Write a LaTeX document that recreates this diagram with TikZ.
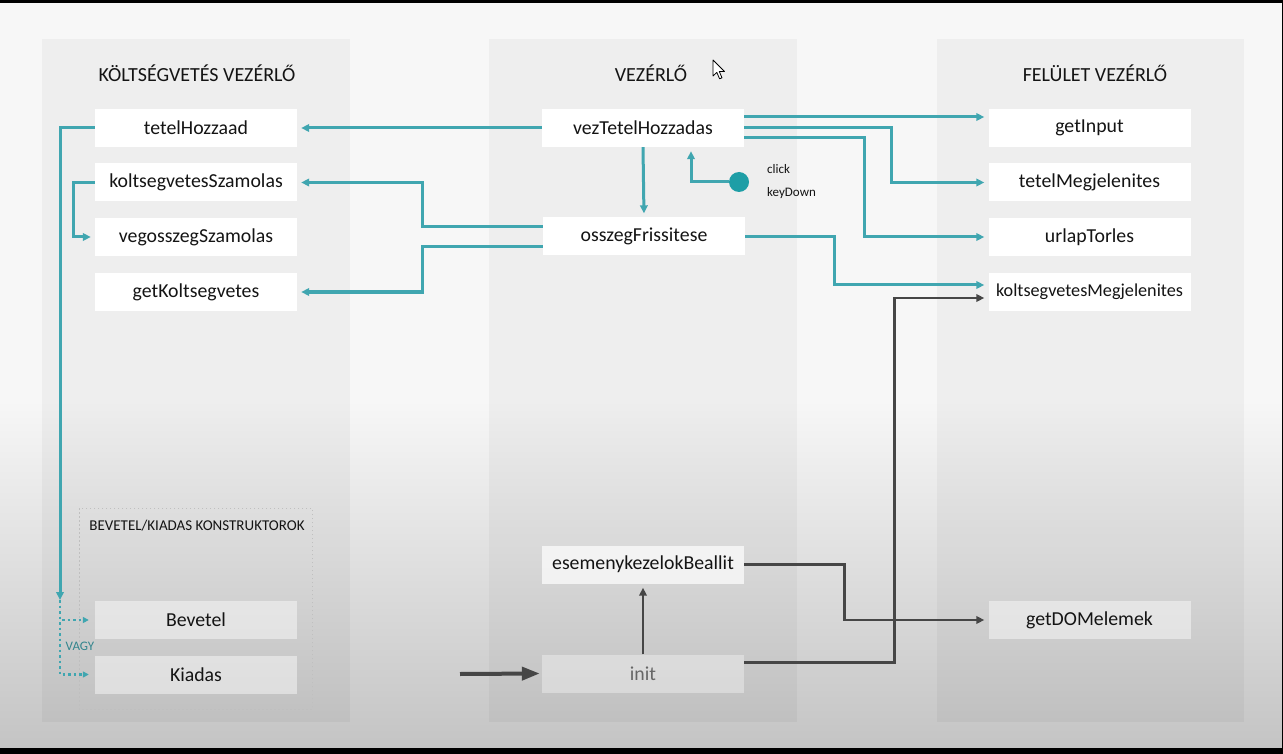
\documentclass[tikz,border=0pt]{standalone}
\usepackage{fontspec}
\setmainfont{Carlito}
\usetikzlibrary{calc,arrows.meta}
\definecolor{tealc}{RGB}{64,166,176}
\definecolor{tealdot}{RGB}{30,158,166}
\definecolor{darkc}{RGB}{70,70,70}
\definecolor{bgtop}{RGB}{247,247,247}
\definecolor{bgbot}{RGB}{196,196,196}
\definecolor{txt}{RGB}{20,20,20}
\begin{document}
\begin{tikzpicture}[x=1pt,y=-1pt,
  box/.style={draw=none,fill=white,minimum width=202pt,minimum height=38pt,inner sep=0pt,
    font=\fontsize{19.8}{21}\selectfont,text=txt},
  lowbox/.style={box,fill=white,fill opacity=0.45,text opacity=1},
  head/.style={font=\fontsize{20}{21}\selectfont,text=txt,inner sep=0pt},
  tl/.style={draw=tealc,line width=3pt,-{Triangle[length=8pt,width=7.5pt]},shorten >=4pt},
  tlplain/.style={draw=tealc,line width=3pt},
  tldot/.style={draw=tealc,line width=2.5pt,dash pattern=on 2.5pt off 3pt},
  dk/.style={draw=darkc,line width=2.6pt,-{Triangle[length=8pt,width=7.5pt]},shorten >=4pt},
]
\useasboundingbox (0,0) rectangle (1283,754);
% background
\fill[bgtop] (0,0) rectangle (1283,754);
\shade[top color=bgtop,bottom color=bgbot] (0,400) rectangle (1283,748);
% columns
\fill[black,opacity=0.035] (42,39) rectangle (350,722);
\fill[black,opacity=0.035] (489,39) rectangle (797,722);
\fill[black,opacity=0.035] (937,39) rectangle (1244,722);
% frame strips
\fill[black] (0,0) rectangle (1283,3);
\fill[black] (0,748) rectangle (1283,754);
\fill[black] (1281.5,0) rectangle (1283,754);

% headers
\node[head] (h1) at (197,73) {KÖLTSÉGVETÉS VEZÉRLŐ};
\node[head] (h2) at (651,73) {VEZÉRLŐ};
\node[head] (h3) at (1095,73) {FELÜLET VEZÉRLŐ};

% constructors group
\draw[draw=black!25,line width=1pt,dash pattern=on 1.5pt off 2.5pt] (79,508) rectangle (312,709);
\node[font=\fontsize{15}{16}\selectfont,text=txt,inner sep=0pt] (hk) at (197,526) {BEVETEL/KIADAS KONSTRUKTOROK};

% left column
\node[box] (th) at (196,128) {tetelHozzaad};
\node[box] (ks) at (196,182.5) {koltsegvetesSzamolas};
\node[box] (vs) at (196,237) {vegosszegSzamolas};
\node[box] (gk) at (196,292) {getKoltsegvetes};
\node[lowbox] (bev) at (196,620) {Bevetel};
\node[lowbox] (kia) at (196,674.5) {Kiadas};

% middle column
\node[box] (vez) at (643,128) {vezTetelHozzadas};
\node[box] (osz) at (644,236.5) {osszegFrissitese};
\node[box,fill=white,fill opacity=0.7,text opacity=1] (esem) at (643,564.5) {esemenykezelokBeallit};
\node[lowbox,fill opacity=0.35,text=black!60] (init) at (643,673.5) {init};

% right column
\node[box] (gi) at (1089.5,128) {getInput};
\node[box] (tm) at (1089.5,182.5) {tetelMegjelenites};
\node[box] (ut) at (1089.5,237) {urlapTorles};
\node[box,font=\fontsize{18.2}{20}\selectfont] (km) at (1089.5,292) {koltsegvetesMegjelenites};
\node[lowbox] (dom) at (1089.5,620) {getDOMelemek};

% click / keyDown
\node[circle,fill=tealdot,minimum size=20pt,inner sep=0pt] (clk) at (739,182) {};
\node[anchor=west,font=\fontsize{13}{14}\selectfont,text=txt,inner sep=0pt] (lclick) at (767,169) {click};
\node[anchor=west,font=\fontsize{13}{14}\selectfont,text=txt,inner sep=0pt] (lkey) at (767,193) {keyDown};

% teal connectors
\draw[tl] (vez.west) -- (th.east);
\draw[tl] (vez.south) -- (osz.north);
\draw[tl] (clk.west) -| ($(vez.south)+(48,0)$);
\draw[tl] ($(vez.east)+(0,-11)$) -- ($(gi.west)+(0,-11)$);
\draw[tl] (vez.east) -- ++(147,0) |- (tm.west);
\draw[tl] ($(vez.east)+(0,10)$) -- ++(120,0) |- (ut.west);
\draw[tl] (osz.east) -- ++(89,0) |- ($(km.west)+(0,-7)$);
\draw[tl] ($(osz.west)+(0,-10)$) -- ++(-120,0) |- (ks.east);
\draw[tl] ($(osz.west)+(0,10)$) -- ++(-120,0) |- (gk.east);
\draw[tl] (ks.west) -- ++(-21,0) |- (vs.west);

\coordinate (vsplit) at (60,600);
\draw[tlplain,-{Triangle[length=8pt,width=7.5pt]}] (th.west) -| (vsplit);
\draw[tldot,-{Triangle[length=6pt,width=6pt]},shorten >=6pt] (vsplit) |- (bev.west);
\draw[tldot,-{Triangle[length=6pt,width=6pt]},shorten >=6pt] (vsplit) |- (kia.west);
\node[font=\fontsize{13}{14}\selectfont,text=tealc!80!black,inner sep=0pt] (vagy) at (80,646) {VAGY};

% dark connectors
\coordinate (start) at (460,674);
\draw[draw=darkc,line width=4pt,-{Triangle[length=18pt,width=13pt]},shorten >=2pt] (start) -- (init.west);
\draw[dk] (init.north) -- (esem.south);
\draw[dk] (esem.east) -- ++(100,0) |- (dom.west);
\draw[dk] ($(init.east)+(0,-11)$) -- ++(150,0) |- ($(km.west)+(0,6)$);

% mouse cursor
\draw[black,line width=0.8pt,fill=white,line join=round]
  (713,60) -- (713,76) -- (716.8,72.4) -- (719.6,78.8) -- (722,77.8) -- (719.3,71.5) -- (724.5,71.5) -- cycle;
\end{tikzpicture}
\end{document}
